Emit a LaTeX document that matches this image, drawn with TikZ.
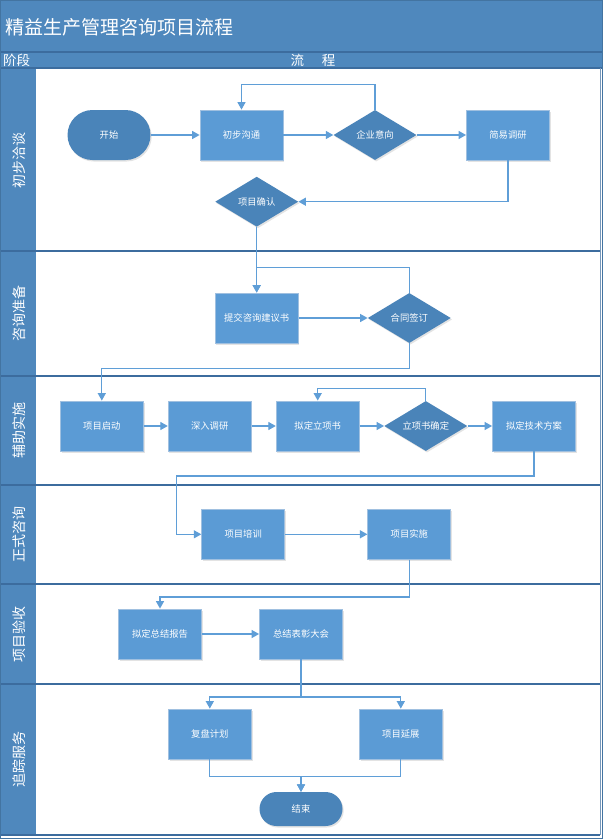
\documentclass[tikz,border=0pt]{standalone}
\usepackage{fontspec}
\setmainfont{Noto Sans CJK SC}
\usetikzlibrary{arrows.meta,shapes.geometric,shadows}
\definecolor{band}{RGB}{79,136,189}
\definecolor{darkline}{RGB}{60,108,158}
\definecolor{boxfill}{RGB}{91,155,213}
\definecolor{boxedge}{RGB}{160,192,224}
\definecolor{diafill}{RGB}{74,132,185}
\definecolor{conncol}{RGB}{95,158,215}
\begin{document}
\begin{tikzpicture}[x=1pt,y=-1pt,
  lbl/.style={text=white, font=\fontsize{9.3}{10}\selectfont, inner sep=0pt},
  shad/.style={drop shadow={shadow xshift=1.2pt, shadow yshift=-1.5pt, opacity=0.22, fill=gray}},
  box/.style={lbl, shad, rectangle, draw=boxedge, line width=0.8pt, fill=boxfill, minimum width=83pt, minimum height=50pt},
  dia/.style={lbl, shad, diamond, aspect=1.66, fill=diafill, minimum width=83pt, minimum height=50pt},
  term/.style={lbl, shad, rectangle, rounded corners=#1, fill=diafill, minimum width=83pt, minimum height=2*#1},
  conn/.style={draw=conncol, line width=1.3pt, -{Triangle[length=7.5pt,width=8pt]}},
  lane/.style={text=white, rotate=90, font=\fontsize{14}{16}\selectfont, inner sep=0pt},
  sep/.style={draw=darkline, line width=1.4pt}
]
\useasboundingbox (0,0) rectangle (603,839);
\fill[white] (0,0) rectangle (603,839);
% bands
\fill[band] (1,1) rectangle (602,68);
\fill[band] (1,68) rectangle (36,836);
\draw[sep] (1,52) -- (602,52);
\draw[sep] (1,68) -- (602,68);
\foreach \yy in {251,376,485,584,684,835} { \draw[sep] (1,\yy) -- (600,\yy); }
\draw[darkline!70, line width=0.9pt] (600,68) -- (600,835);
\draw[band!85!black, line width=0.6pt] (0.5,0.5) rectangle (602.5,838.5);

% titles
\node[anchor=west, text=white, inner sep=0pt, font=\fontsize{19}{21}\selectfont] (title) at (5,27) {精益生产管理咨询项目流程};
\node[anchor=west, text=white, inner sep=0pt, font=\fontsize{13.5}{15}\selectfont] (stage) at (3,60) {阶段};
\node[text=white, inner sep=0pt, font=\fontsize{13.5}{15}\selectfont] (flow) at (313,60) {流\hspace{18pt}程};

% lane labels
\node[lane] (l1) at (19,160) {初步洽谈};
\node[lane] (l2) at (19,313.5) {咨询准备};
\node[lane] (l3) at (19,430.5) {辅助实施};
\node[lane] (l4) at (19,534.5) {正式咨询};
\node[lane] (l5) at (19,634) {项目验收};
\node[lane] (l6) at (19,759.5) {追踪服务};

% lane 1
\node[term=25pt] (start) at (109,135) {开始};
\node[box] (comm) at (241.5,135) {初步沟通};
\node[dia] (intent) at (375,135) {企业意向};
\node[box] (survey) at (508,135) {简易调研};
\node[dia] (confirm) at (256.7,201.7) {项目确认};
% lane 2
\node[box] (proposal) at (256.7,318) {提交咨询建议书};
\node[dia] (sign) at (409.3,318) {合同签订};
% lane 3
\node[box] (kickoff) at (101.8,426) {项目启动};
\node[box] (deep) at (209.7,426) {深入调研};
\node[box] (draft) at (317.7,426) {拟定立项书};
\node[dia] (approve) at (425.8,426) {立项书确定};
\node[box] (tech) at (534,426) {拟定技术方案};
% lane 4
\node[box] (train) at (243.2,534.3) {项目培训};
\node[box] (impl) at (409.3,534.3) {项目实施};
% lane 5
\node[box] (report) at (160,634) {拟定总结报告};
\node[box] (meeting) at (301,634) {总结表彰大会};
% lane 6
\node[box] (review) at (209.8,734) {复盘计划};
\node[box] (extend) at (400.8,734) {项目延展};
\node[term=17pt] (end) at (301,809) {结束};

\coordinate (b1) at (176.8,476);

% connectors
\draw[conn] (start) -- (comm);
\draw[conn] (comm) -- (intent);
\draw[conn] (intent) -- (survey);
\draw[conn] (intent.north) -- ++(0,-25) -| (comm.north);
\draw[conn] (survey.south) |- (confirm.east);
\draw[conn] (sign.north) -- ++(0,-25) -| (proposal.north);
\draw[conn] (confirm.south) -- (proposal.north);
\draw[conn] (proposal) -- (sign);
\draw[conn] (sign.south) -- ++(0,25) -| (kickoff.north);
\draw[conn] (kickoff) -- (deep);
\draw[conn] (deep) -- (draft);
\draw[conn] (draft) -- (approve);
\draw[conn] (approve) -- (tech);
\draw[conn] (approve.north) -- ++(0,-12.5) -| (draft.north);
\draw[conn] (tech.south) |- (b1) |- (train.west);
\draw[conn] (train) -- (impl);
\draw[conn] (impl.south) -- ++(0,37.4) -| (report.north);
\draw[conn] (report) -- (meeting);
\draw[conn] (meeting.south) -- ++(0,37.7) -| (review.north);
\draw[conn] (meeting.south) -- ++(0,37.7) -| (extend.north);
\draw[conn] (review.south) -- ++(0,17) -| (end.north);
\draw[conn] (extend.south) -- ++(0,17) -| (end.north);
\end{tikzpicture}
\end{document}
